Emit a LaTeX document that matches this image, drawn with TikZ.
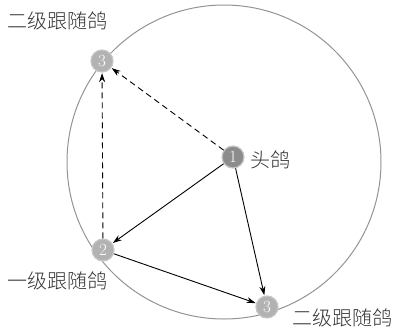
\documentclass[tikz,border=0pt]{standalone}
\usepackage{fontspec}
\newfontfamily\cjk{Noto Sans CJK SC Light}
\usetikzlibrary{arrows.meta}
\begin{document}
\begin{tikzpicture}[x=1pt,y=-1pt,
  pigeon/.style={circle,draw=gray!45,line width=1.2pt,fill=#1,minimum size=22pt,inner sep=0pt,text=white,font=\fontsize{17}{17}\selectfont},
  lbl/.style={font=\cjk\fontsize{20}{20}\selectfont,text=black!80,inner sep=0pt},
  link/.style={line width=0.9pt,-{Stealth[length=9pt,width=6pt]},shorten >=0.5pt},
  dlink/.style={link,dash pattern=on 6pt off 4pt}]
\useasboundingbox (0,0) rectangle (396,333);
\draw[gray!85,line width=1pt] (224,162) circle (157);
\node[pigeon=gray!90] (p1) at (233,157) {1};
\node[pigeon=gray!60] (p2) at (103,250) {2};
\node[pigeon=gray!60] (p3a) at (102,61) {3};
\node[pigeon=gray!60] (p3b) at (267,307) {3};
\draw[link] (p1) -- (p2);
\draw[link] (p1) -- (p3b);
\draw[link] (p2) -- (p3b);
\draw[dlink] (p1) -- (p3a);
\draw[dlink] (p2) -- (p3a);
\node[lbl,anchor=west] (l1) at (250,160) {头鸽};
\node[lbl] (l3a) at (57,21) {二级跟随鸽};
\node[lbl] (l2) at (57,281) {一级跟随鸽};
\node[lbl] (l3b) at (342,318) {二级跟随鸽};
\end{tikzpicture}
\end{document}
